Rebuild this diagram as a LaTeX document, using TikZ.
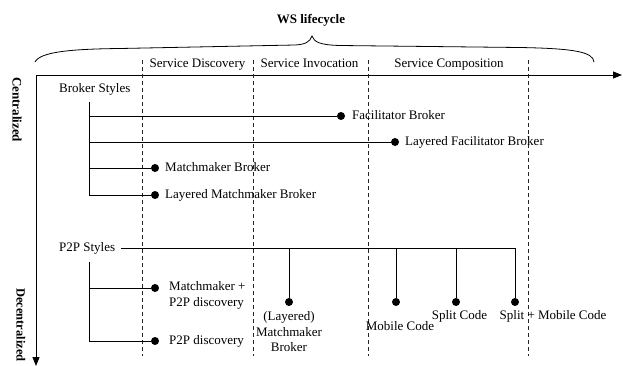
\documentclass[tikz,border=0pt]{standalone}
\usepackage{fontspec}
\setmainfont{Liberation Serif}
\usetikzlibrary{arrows.meta}
\tikzset{
  lbl/.style={inner sep=0pt, font=\fontsize{13}{15.5}\selectfont, text height=9pt, text depth=3pt},
  headlbl/.style={inner sep=0pt, font=\fontsize{13}{15}\selectfont\bfseries},
  dot/.style={circle, fill=black, inner sep=0pt, minimum size=8pt},
  phase/.style={dash pattern=on 4pt off 3pt, line width=0.9pt, black!85},
  axis/.style={line width=0.9pt, -{Triangle[length=9pt,width=7pt]}},
  link/.style={line width=0.9pt},
}
\begin{document}
\begin{tikzpicture}[x=1pt,y=-1pt]
\useasboundingbox (0,0) rectangle (623,365);
\clip (0,0) rectangle (623,365);
\fill[white] (0,0) rectangle (623,365);

% title and brace over the lifecycle phases
\node[headlbl] (title) at (311,20) {WS lifecycle};
\draw[line width=0.8pt] (35,62) .. controls (40,52) and (70,49) .. (120,48.5)
  -- (295,45) .. controls (305,44.5) and (310,42) .. (312,36)
  .. controls (314,42) and (320,45) .. (340,45.5)
  -- (520,47.5) .. controls (575,48.5) and (593,52) .. (594,62);

% axes
\coordinate (origin) at (36,75);
\coordinate (xend) at (622,75);
\coordinate (yend) at (36,366);
\draw[axis] (origin) -- (xend);
\draw[axis] (origin) -- (yend);
\node[headlbl, rotate=-90, anchor=west] (central) at (17,77) {Centralized};
\node[headlbl, font=\fontsize{12.5}{15}\selectfont\bfseries, rotate=-90, anchor=west] (decentral) at (21,288) {Decentralized};

% phase separators
\foreach \x/\n in {142/a,253/b,368/c,528/d}{
  \coordinate (top\n) at (\x,60);
  \coordinate (bot\n) at (\x,356);
  \draw[phase] (top\n) -- (bot\n);
}
\node[lbl] (sd) at (197.5,64) {Service Discovery};
\node[lbl] (si) at (309.5,64) {Service Invocation};
\node[lbl] (sc) at (449,64) {Service Composition};

% broker styles
\node[lbl, anchor=west] (broker) at (59,89) {Broker Styles};
\coordinate (btop) at (89,102);
\node[dot] (fb) at (341,116) {};
\node[dot] (lfb) at (395,142) {};
\node[dot] (mb) at (155,168) {};
\node[dot] (lmb) at (155,195) {};
\draw[link] (btop) |- (lmb);
\draw[link] (btop |- fb) -- (fb);
\draw[link] (btop |- lfb) -- (lfb);
\draw[link] (btop |- mb) -- (mb);
\node[lbl, anchor=west] (fbl) at (352,116) {Facilitator Broker};
\node[lbl, anchor=west] (lfbl) at (405,142) {Layered Facilitator Broker};
\node[lbl, anchor=west] (mbl) at (165,168) {Matchmaker Broker};
\node[lbl, anchor=west] (lmbl) at (165,195) {Layered Matchmaker Broker};

% peer-to-peer styles
\node[lbl, anchor=west] (p2p) at (59,248) {P2P Styles};
\coordinate (ptop) at (89,262);
\node[dot] (mpd) at (155,288) {};
\node[dot] (pd) at (155,341) {};
\draw[link] (ptop) |- (pd);
\draw[link] (ptop |- mpd) -- (mpd);
\node[lbl, anchor=west, align=left, text height=, text depth=] (mpdl) at (169,295.5) {Matchmaker +\\P2P discovery};
\node[lbl, anchor=west] (pdl) at (169,341) {P2P discovery};

\node[dot] (lmm) at (289,302) {};
\node[dot] (mc) at (396,302) {};
\node[dot] (spc) at (456,302) {};
\node[dot] (smc) at (515,302) {};
\coordinate (pend) at (515,248);
\draw[link] ([xshift=6pt]p2p.east) -- (pend) -- (smc);
\draw[link] (lmm |- pend) -- (lmm);
\draw[link] (mc |- pend) -- (mc);
\draw[link] (spc |- pend) -- (spc);
\node[lbl, align=center, text height=, text depth=] (lmml) at (289,332) {(Layered)\\Matchmaker\\Broker};
\node[lbl] (mcl) at (400,327) {Mobile Code};
\node[lbl] (spcl) at (459.5,316) {Split Code};
\node[lbl] (smcl) at (553,316) {Split + Mobile Code};
\end{tikzpicture}
\end{document}
